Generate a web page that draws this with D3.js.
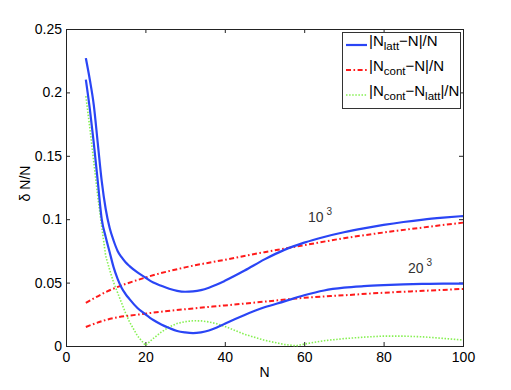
<!DOCTYPE html>
<html>
<head>
<meta charset="utf-8">
<script src="https://cdn.jsdelivr.net/npm/d3@7"></script>
<style>
  body { margin: 0; background: #fff; }
  svg { font-family: "Liberation Sans", Arial, Helvetica, sans-serif; }
  .axis text { font-size: 14px; fill: #000; }
  .axis line { stroke: #222; }
  .axis path { display: none; }
</style>
</head>
<body>
<svg id="chart"></svg>
<script>
// lattice sizes
const nLatt = [5, 6, 7, 8, 9, 10, 11, 12, 13, 14, 15, 16, 18, 20, 22, 24, 26, 28, 30, 32, 34, 36, 38, 40, 45, 50, 55, 60, 65, 70, 75, 80, 85, 90, 95, 100];
const latt10 = [0.227, 0.21, 0.19, 0.16, 0.13, 0.108, 0.093, 0.083, 0.075, 0.070, 0.066, 0.063, 0.058, 0.054, 0.050, 0.0475, 0.0452, 0.0435, 0.0428, 0.0431, 0.0441, 0.046, 0.0485, 0.0514, 0.0595, 0.0683, 0.0758, 0.0815, 0.086, 0.0897, 0.0928, 0.0955, 0.0978, 0.0997, 0.1012, 0.1025];
const latt20 = [0.21, 0.187, 0.16, 0.13, 0.10, 0.086, 0.074, 0.062, 0.053, 0.046, 0.041, 0.037, 0.030, 0.025, 0.0205, 0.017, 0.0142, 0.0118, 0.0107, 0.0102, 0.0108, 0.0122, 0.0146, 0.0176, 0.0245, 0.0305, 0.0352, 0.040, 0.0438, 0.046, 0.0472, 0.048, 0.0486, 0.049, 0.0492, 0.0492];

const nCont = [5, 10, 20, 30, 40, 50, 60, 70, 80, 90, 100];
const cont10 = [0.034, 0.0425, 0.054, 0.062, 0.068, 0.074, 0.0795, 0.085, 0.0895, 0.0935, 0.0973];
const cont20 = [0.015, 0.0205, 0.0255, 0.029, 0.032, 0.035, 0.038, 0.040, 0.042, 0.0435, 0.045];

const nDiff = [5, 6, 7, 8, 9, 10, 11, 12, 13, 14, 15, 16, 18, 20, 22, 24, 26, 28, 30, 32, 34, 36, 38, 40, 45, 50, 55, 58, 60, 65, 70, 75, 80, 85, 90, 95, 100];
const contLatt = [0.197, 0.172, 0.145, 0.118, 0.094, 0.071, 0.060, 0.050, 0.042, 0.034, 0.026, 0.019, 0.008, 0.0005, 0.006, 0.011, 0.015, 0.0178, 0.0192, 0.0199, 0.0198, 0.019, 0.0175, 0.0155, 0.0092, 0.0045, 0.0012, 0.0002, 0.0015, 0.0042, 0.0058, 0.007, 0.0078, 0.0078, 0.0072, 0.006, 0.0047];

const xTicks = [0, 20, 40, 60, 80, 100];
const yTicks = [0, 0.05, 0.1, 0.15, 0.2, 0.25];
const yTickLabels = ['0', '0.05', '0.1', '0.15', '0.2', '0.25'];

const width = 511;
const height = 390;
const margin = {top: 29, right: 48, bottom: 44, left: 66};

const svg = d3.select('#chart')
  .attr('width', width)
  .attr('height', height);

const x = d3.scaleLinear()
  .domain([0, 100])
  .range([margin.left, width - margin.right]);

const y = d3.scaleLinear()
  .domain([0, 0.25])
  .range([height - margin.bottom, margin.top]);

const zip = (xs, ys) => xs.map((n, i) => ({n, v: ys[i]}));

// axes, ticks pointing inward on all four sides
svg.append('g')
  .attr('class', 'axis')
  .attr('transform', `translate(0, ${y(0)})`)
  .call(d3.axisBottom(x).tickValues(xTicks).tickSizeInner(-4).tickSizeOuter(0).tickPadding(6));

svg.append('g')
  .attr('class', 'axis')
  .attr('transform', `translate(0, ${y(0.25)})`)
  .call(d3.axisTop(x).tickValues(xTicks).tickSizeInner(-4).tickSizeOuter(0).tickFormat(''));

svg.append('g')
  .attr('class', 'axis')
  .attr('transform', `translate(${x(0)}, 0)`)
  .call(d3.axisLeft(y).tickValues(yTicks).tickSizeInner(-4).tickSizeOuter(0).tickPadding(4)
    .tickFormat((d, i) => yTickLabels[i]));

svg.append('g')
  .attr('class', 'axis')
  .attr('transform', `translate(${x(100)}, 0)`)
  .call(d3.axisRight(y).tickValues(yTicks).tickSizeInner(-4).tickSizeOuter(0).tickFormat(''));

svg.append('rect')
  .attr('x', x(0) + 0.5)
  .attr('y', y(0.25) + 0.5)
  .attr('width', x(100) - x(0))
  .attr('height', y(0) - y(0.25))
  .attr('fill', 'none')
  .attr('stroke', '#222');

// axis titles
svg.append('text')
  .attr('x', (x(0) + x(100)) / 2)
  .attr('y', 377)
  .attr('text-anchor', 'middle')
  .attr('font-size', 14)
  .text('N');

svg.append('text')
  .attr('transform', `translate(30, ${(y(0) + y(0.25)) / 2 - 4}) rotate(-90)`)
  .attr('text-anchor', 'middle')
  .attr('font-size', 14)
  .text('δ N/N');

// curves
const smooth = d3.line()
  .x(d => x(d.n))
  .y(d => y(d.v))
  .curve(d3.curveMonotoneX);

const straight = d3.line()
  .x(d => x(d.n))
  .y(d => y(d.v));

const blue = '#2a45f5';
const red = '#ff1a1a';
const green = '#86f052';

const series = [
  {data: zip(nDiff, contLatt), gen: straight, color: green, w: 1.6, dash: '1.5,1.6'},
  {data: zip(nCont, cont10), gen: smooth, color: red, w: 2, dash: '5,2.5,1.6,2.5'},
  {data: zip(nCont, cont20), gen: smooth, color: red, w: 2, dash: '5,2.5,1.6,2.5'},
  {data: zip(nLatt, latt10), gen: smooth, color: blue, w: 2.2, dash: null},
  {data: zip(nLatt, latt20), gen: smooth, color: blue, w: 2.2, dash: null}
];

series.forEach(s => {
  svg.append('path')
    .datum(s.data)
    .attr('fill', 'none')
    .attr('stroke', s.color)
    .attr('stroke-width', s.w)
    .attr('stroke-dasharray', s.dash)
    .attr('d', s.gen);
});

// lattice size annotations
function power(px, py, base) {
  const t = svg.append('text')
    .attr('x', px)
    .attr('y', py)
    .attr('font-size', 14)
    .attr('fill', '#333');
  t.append('tspan').text(base);
  t.append('tspan').attr('dx', 3).attr('dy', -7).attr('font-size', 10).text('3');
}
power(308, 222, '10');
power(408, 273, '20');

// legend
const legend = svg.append('g');
legend.append('rect')
  .attr('x', 342.5)
  .attr('y', 32.5)
  .attr('width', 118)
  .attr('height', 76)
  .attr('fill', '#fff')
  .attr('stroke', '#333');

const legendItems = [
  {color: blue, w: 2.2, dash: null, parts: [['|N', 0], ['latt', 1], ['−N|/N', 0]]},
  {color: red, w: 2, dash: '5,2.5,1.6,2.5', parts: [['|N', 0], ['cont', 1], ['−N|/N', 0]]},
  {color: green, w: 1.6, dash: '1.5,1.6', parts: [['|N', 0], ['cont', 1], ['−N', 0], ['latt', 1], ['|/N', 0]]}
];

legendItems.forEach((item, i) => {
  const ly = 45 + i * 25;
  legend.append('line')
    .attr('x1', 346)
    .attr('x2', 367)
    .attr('y1', ly)
    .attr('y2', ly)
    .attr('stroke', item.color)
    .attr('stroke-width', item.w)
    .attr('stroke-dasharray', item.dash);

  const t = legend.append('text')
    .attr('x', 369)
    .attr('y', ly + 0.5)
    .attr('font-size', 15);
  let shift = 0;
  item.parts.forEach(([str, sub]) => {
    const off = sub ? 4 : 0;
    t.append('tspan')
      .attr('dy', off - shift)
      .attr('font-size', sub ? 11.5 : 15)
      .text(str);
    shift = off;
  });
});
</script>
</body>
</html>
